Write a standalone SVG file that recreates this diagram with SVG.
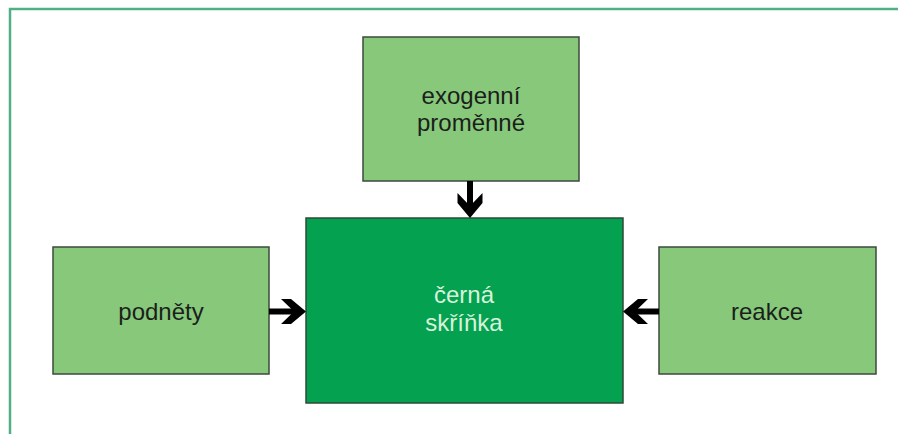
<svg xmlns="http://www.w3.org/2000/svg" width="898" height="434" viewBox="0 0 898 434">
  <style>
    .light { fill: #87c87b; stroke: #3d4a3d; stroke-width: 1.5; }
    .dark { fill: #03a150; stroke: #2f4a38; stroke-width: 1.5; }
    .lbl { font-family: "Liberation Sans", Arial, sans-serif; font-size: 24px; fill: #1b1f1b; text-anchor: middle; }
    .lbl-w { font-family: "Liberation Sans", Arial, sans-serif; font-size: 24px; fill: #d9f2dc; text-anchor: middle; }
    .shaft { stroke: #000; stroke-width: 6; fill: none; }
    .head { fill: #000; }
  </style>
  <defs>
    <path id="ah" d="M0,0 L-15,-12.5 L-25,-12.5 L-12,0 L-25,12.5 L-15,12.5 Z"/>
  </defs>
  <rect x="10" y="9" width="900" height="440" fill="none" stroke="#4fb083" stroke-width="2.5"/>

  <g id="exogenni">
    <rect class="light" x="363" y="37" width="216" height="144"/>
    <text class="lbl" x="471" y="104">exogenní</text>
    <text class="lbl" x="471" y="131">proměnné</text>
  </g>
  <g id="podnety">
    <rect class="light" x="53" y="247" width="216" height="127"/>
    <text class="lbl" x="161" y="320">podněty</text>
  </g>
  <g id="reakce">
    <rect class="light" x="659" y="247" width="217" height="127"/>
    <text class="lbl" x="767" y="320">reakce</text>
  </g>
  <g id="cerna-skrinka">
    <rect class="dark" x="306" y="218" width="317" height="185"/>
    <text class="lbl-w" x="464" y="303">černá</text>
    <text class="lbl-w" x="464" y="331">skříňka</text>
  </g>

  <g id="connectors">
    <line class="shaft" x1="470" y1="181" x2="470" y2="208"/>
    <use href="#ah" class="head" transform="translate(470,218) rotate(90)"/>
    <line class="shaft" x1="269" y1="311.5" x2="296" y2="311.5"/>
    <use href="#ah" class="head" transform="translate(306,311.5)"/>
    <line class="shaft" x1="659" y1="311.5" x2="633" y2="311.5"/>
    <use href="#ah" class="head" transform="translate(623,311.5) rotate(180)"/>
  </g>
</svg>
